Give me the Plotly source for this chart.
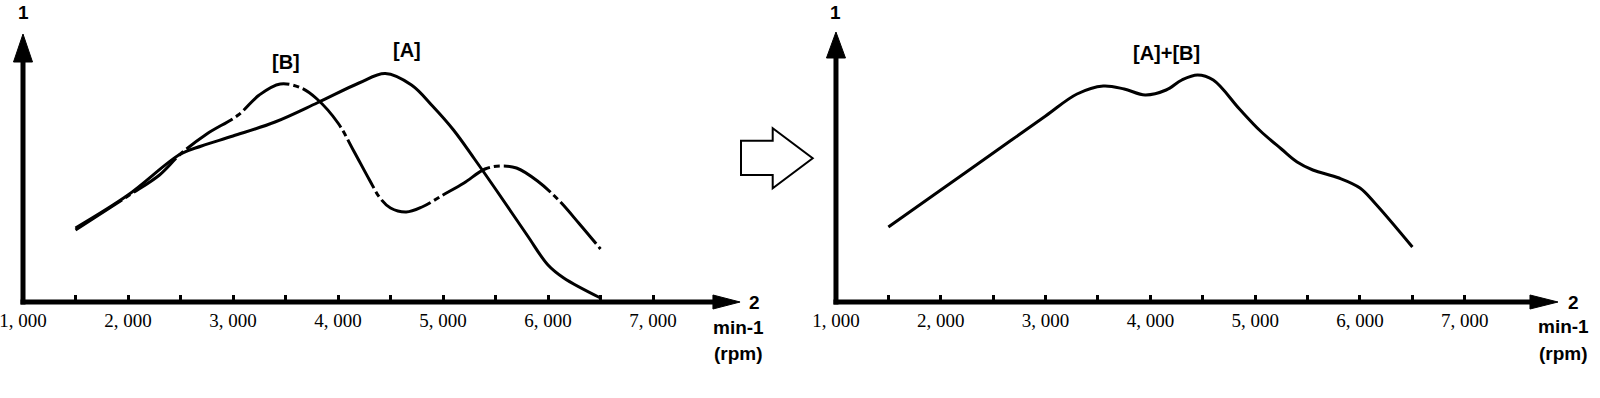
import plotly.graph_objects as go

# ---- data (engine speed in rpm, relative characteristic value) ----
rpm_A = [1500, 2000, 2500, 2700, 3000, 3400, 3800, 4200, 4450, 4700, 4900, 5100, 5300, 5500, 5800, 6000, 6150, 6500]
val_A = [74, 107, 148, 156, 166, 180, 199, 219, 228.5, 217, 196, 172, 143, 113, 67, 37, 24, 4]

rpm_B = [1500, 2000, 2300, 2500, 2750, 3050, 3250, 3450, 3650, 3800, 4000, 4150, 4300, 4400, 4500,
         4650, 4800, 5000, 5200, 5400, 5550, 5700, 5900, 6100, 6300, 6500]
val_B = [72, 106, 127, 148, 168, 187, 207, 218, 214, 203, 179, 151, 122, 104, 94,
         90, 95, 107, 119, 133, 136, 134, 121, 102, 78, 53]

rpm_AB = [1500, 2000, 2500, 3000, 3300, 3550, 3750, 3950, 4150, 4300, 4450, 4600, 4850, 5050, 5250,
          5400, 5550, 5800, 6000, 6150, 6500]
val_AB = [75, 112, 149, 186, 208, 216, 213, 207, 212, 222, 227, 222, 193, 171, 153,
          140, 132, 124, 114, 98, 55]

tick_vals = [1000, 2000, 3000, 4000, 5000, 6000, 7000]
tick_text = ["1, 000", "2, 000", "3, 000", "4, 000", "5, 000", "6, 000", "7, 000"]
minor_vals = [1500, 2500, 3500, 4500, 5500, 6500]

W, H = 1600, 398


def px(x):
    return x / W


def py(y):
    return (H - y) / H


fig = go.Figure()
fig.add_trace(go.Scatter(x=rpm_A, y=val_A, mode="lines", name="[A]",
                         line=dict(color="black", width=3, shape="spline", smoothing=1.0),
                         xaxis="x", yaxis="y", hoverinfo="skip"))
fig.add_trace(go.Scatter(x=rpm_B, y=val_B, mode="lines", name="[B]",
                         line=dict(color="black", width=3, shape="spline", smoothing=1.0,
                                   dash="55px,4px,6px,4px"),
                         xaxis="x", yaxis="y", hoverinfo="skip"))
fig.add_trace(go.Scatter(x=rpm_AB, y=val_AB, mode="lines", name="[A]+[B]",
                         line=dict(color="black", width=3, shape="spline", smoothing=1.0),
                         xaxis="x2", yaxis="y2", hoverinfo="skip"))

tickfont = dict(family="Liberation Serif", size=19, color="black")


def xaxis_cfg(d0, d1):
    return dict(domain=[d0, d1], range=[900, 8000], anchor="free", position=py(302),
                automargin=False,
                showline=False, showgrid=False, zeroline=False,
                tickmode="array", tickvals=tick_vals, ticktext=tick_text,
                ticks="inside", ticklen=7, tickwidth=3, tickcolor="black",
                ticklabelstandoff=5, ticklabeloverflow="allow",
                tickfont=tickfont,
                minor=dict(tickvals=minor_vals, ticks="inside", ticklen=7, tickwidth=3,
                           tickcolor="black", showgrid=False))


ydom = [py(312), py(27)]
yaxis_cfg = dict(domain=ydom, range=[-10, 275], visible=False, showgrid=False, zeroline=False,
                 automargin=False)

fig.update_layout(
    width=W, height=H,
    margin=dict(l=0, r=0, t=0, b=0, autoexpand=False),
    paper_bgcolor="white", plot_bgcolor="white",
    showlegend=False,
    xaxis=xaxis_cfg(12.5 / W, 758 / W),
    yaxis=dict(yaxis_cfg, anchor="x"),
    xaxis2=xaxis_cfg(825.5 / W, 1569.6 / W),
    yaxis2=dict(yaxis_cfg, anchor="x2"),
)

shapes = []


def axes_shapes(xr, yr, rpm_per_px, v_tip, v_base, h_base, h_tip):
    s = []
    # vertical axis
    s.append(dict(type="line", xref=xr, yref=yr, x0=1000, x1=1000, y0=-2.5, y1=v_base + 2,
                  line=dict(color="black", width=5)))
    # horizontal axis
    s.append(dict(type="line", xref=xr, yref=yr, x0=1000 - 2.5 * rpm_per_px, x1=h_base + 10 * rpm_per_px,
                  y0=0, y1=0, line=dict(color="black", width=5)))
    hw = 9.5 * rpm_per_px
    s.append(dict(type="path", xref=xr, yref=yr,
                  path=f"M {1000 - hw},{v_base} L {1000 + hw},{v_base} L 1000,{v_tip} Z",
                  fillcolor="black", line=dict(color="black", width=1)))
    s.append(dict(type="path", xref=xr, yref=yr,
                  path=f"M {h_base},-7 L {h_base},7 L {h_tip},0 Z",
                  fillcolor="black", line=dict(color="black", width=1)))
    return s


shapes += axes_shapes("x", "y", 1000 / 105.0, 268, 240, 7571, 7829)
shapes += axes_shapes("x2", "y2", 1000 / 104.8, 270, 244, 7622, 7889)

# block arrow between the panels
pts = [(741, 140.7), (772.7, 140.7), (772.7, 128.3), (812.7, 158.3), (772.7, 188.3), (772.7, 175), (741, 175)]
path = "M " + " L ".join(f"{px(x)},{py(y)}" for x, y in pts) + " Z"
shapes.append(dict(type="path", xref="paper", yref="paper", path=path,
                   fillcolor="white", line=dict(color="black", width=2)))

fig.update_layout(shapes=shapes)

bold = dict(family="Liberation Sans", size=19, color="black", weight="bold")
lab = dict(family="Liberation Sans", size=20, color="black", weight="bold")

ann = []
ann.append(dict(text="[A]", x=4660, y=252, xref="x", yref="y", showarrow=False, font=lab))
ann.append(dict(text="[B]", x=3505, y=240, xref="x", yref="y", showarrow=False, font=lab))
ann.append(dict(text="[A]+[B]", x=4149, y=249, xref="x2", yref="y2", showarrow=False, font=lab))
for (x, y, t) in [(23, 12, "1"), (835.5, 12, "1"),
                  (754, 302, "2"), (1573, 302, "2"),
                  (738, 327, "min-1"), (1563, 326, "min-1"),
                  (738, 353, "(rpm)"), (1563, 353, "(rpm)")]:
    ann.append(dict(text=t, x=px(x), y=py(y), xref="paper", yref="paper", showarrow=False,
                    xanchor="center", yanchor="middle", font=bold))
fig.update_layout(annotations=ann)

fig.write_html("out.html")
